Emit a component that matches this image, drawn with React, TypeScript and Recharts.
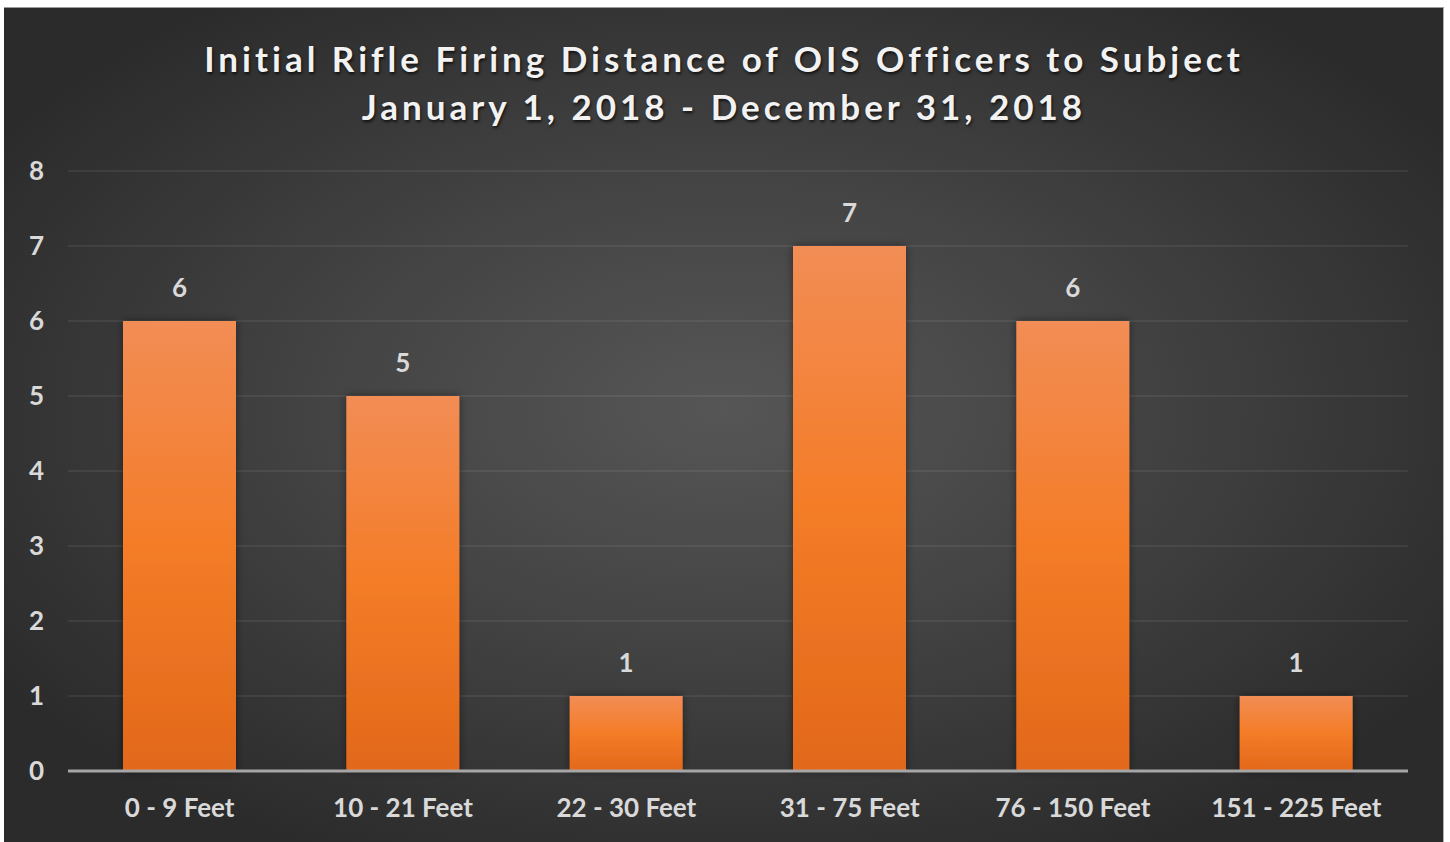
import React from "react";
import { BarChart, Bar, XAxis, YAxis, CartesianGrid, LabelList } from "recharts";

const categories = ["0 - 9 Feet", "10 - 21 Feet", "22 - 30 Feet", "31 - 75 Feet", "76 - 150 Feet", "151 - 225 Feet"];
const officers = [6, 5, 1, 7, 6, 1];
const yTicks = [0, 1, 2, 3, 4, 5, 6, 7, 8];
const titleLines = ["Initial Rifle Firing Distance of OIS Officers to Subject", "January 1, 2018 - December 31, 2018"];

const data = categories.map((c, i) => ({ name: c, value: officers[i] }));

const FONT = "Lato, 'Open Sans', sans-serif";
const TEXT = "#d9d9d9";

export default function App() {
  return (
    <div
      style={{
        position: "absolute",
        left: 4,
        top: 7,
        width: 1440,
        height: 835,
        boxSizing: "border-box",
        borderTop: "1px solid #9a9a9a",
        borderRight: "1px solid #b0b0b0",
        background: "radial-gradient(ellipse 60% 60% at 50% 48%, #565656 0%, #444 45%, #2b2b2b 100%)",
        overflow: "hidden",
      }}
    >
      <div
        style={{
          position: "absolute",
          left: 0,
          top: 26,
          width: 1440,
          textAlign: "center",
          color: "#f2f2f2",
          fontFamily: FONT,
          fontWeight: 700,
          fontSize: 35,
          lineHeight: "48px",
          letterSpacing: 4,
          textShadow: "1px 2px 3px rgba(0,0,0,0.7)",
        }}
      >
        {titleLines.map((t) => (
          <div key={t}>{t}</div>
        ))}
      </div>
      <BarChart
        width={1440}
        height={835}
        data={data}
        margin={{ top: 163, right: 36, bottom: 0, left: 0 }}
        style={{ position: "absolute", left: 0, top: 0 }}
      >
        <defs>
          <linearGradient id="barGrad" x1="0" y1="0" x2="0" y2="1">
            <stop offset="0%" stopColor="#f28d55" />
            <stop offset="50%" stopColor="#f47c27" />
            <stop offset="100%" stopColor="#e2681a" />
          </linearGradient>
          <filter id="barShadow" x="-20%" y="-20%" width="140%" height="140%">
            <feDropShadow dx="0" dy="0" stdDeviation="4" floodColor="#000" floodOpacity="0.45" />
          </filter>
        </defs>
        <CartesianGrid vertical={false} stroke="#ffffff" strokeOpacity={0.09} strokeWidth={1.5} />
        <XAxis
          dataKey="name"
          height={72}
          axisLine={{ stroke: "#a6a6a6", strokeWidth: 3 }}
          tickLine={false}
          tickSize={0}
          tickMargin={28}
          tick={{ fill: TEXT, fontFamily: FONT, fontWeight: 700, fontSize: 26 }}
          interval={0}
        />
        <YAxis
          domain={[0, 8]}
          ticks={yTicks}
          width={64}
          axisLine={false}
          tickLine={false}
          tickSize={0}
          tickMargin={24}
          tick={{ fill: TEXT, fontFamily: FONT, fontWeight: 700, fontSize: 26 }}
        />
        <Bar dataKey="value" fill="url(#barGrad)" barSize={113} isAnimationActive={false} filter="url(#barShadow)">
          <LabelList
            dataKey="value"
            position="top"
            offset={24}
            fill={TEXT}
            style={{ fontFamily: FONT, fontWeight: 700, fontSize: 26 }}
          />
        </Bar>
      </BarChart>
    </div>
  );
}
